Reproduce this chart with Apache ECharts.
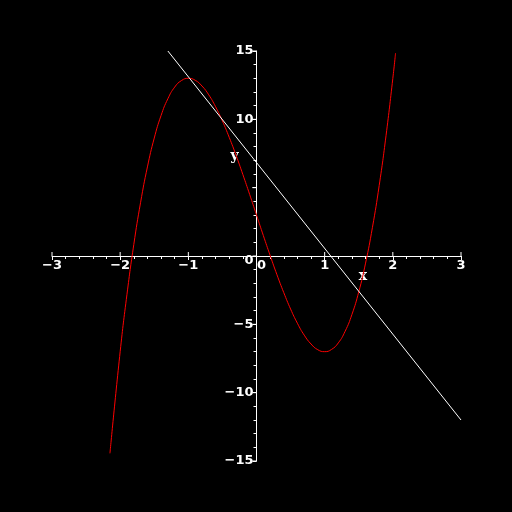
<!DOCTYPE html><html><head><meta charset="utf-8">
<script src="https://cdn.jsdelivr.net/npm/echarts@6/dist/echarts.min.js"></script>
<style>html,body{margin:0;background:#000}#c{width:512px;height:512px}</style></head><body><div id="c"></div>
<script>
const curveX=[-2.15,-2.0,-1.9,-1.8,-1.7,-1.6,-1.5,-1.4,-1.3,-1.2,-1.1,-1.0,-0.9,-0.8,-0.7,-0.6,-0.5,-0.4,-0.3,-0.2,-0.1,0,0.1,0.2,0.3,0.4,0.5,0.6,0.7,0.8,0.9,1.0,1.1,1.2,1.3,1.4,1.5,1.6,1.7,1.8,1.9,2.0,2.04];
const curveY=[-14.44,-7,-2.8,0.84,3.93,6.52,8.63,10.28,11.51,12.36,12.84,13,12.86,12.44,11.79,10.92,9.88,8.68,7.37,5.96,4.5,3,1.5,0.04,-1.37,-2.68,-3.88,-4.92,-5.79,-6.44,-6.86,-7,-6.84,-6.36,-5.51,-4.28,-2.63,-0.52,2.07,5.16,8.8,13,14.85];
const lineX=[-1.3,3];
const lineY=[15,-12];
const xTicks=[-3,-2,-1,0,1,2,3];
const yTicks=[-15,-10,-5,0,10,15];
const ch=echarts.init(document.getElementById('c'));
const ax=(mn,mx,iv)=>({type:'value',min:mn,max:mx,interval:iv,axisLine:{onZero:true,lineStyle:{color:'#fff'}},
 axisTick:{length:4,lineStyle:{color:'#fff'}},minorTick:{show:true,splitNumber:5,length:3,lineStyle:{color:'#fff'}},
 splitLine:{show:false},axisLabel:{show:false}});
const axIn=(mn,mx,iv)=>Object.assign(ax(mn,mx,iv),{axisTick:{inside:true,length:4,lineStyle:{color:'#fff'}},minorTick:{show:true,splitNumber:5,length:3,lineStyle:{color:'#fff'}}});
ch.setOption({backgroundColor:'#000',animation:false,
grid:{left:52,right:51,top:51,bottom:51},
xAxis:[ax(-3,3,1)],
yAxis:[ax(-15,15,5)],
series:[
 {type:'line',data:curveX.map((x,i)=>[x,curveY[i]]),smooth:true,showSymbol:false,lineStyle:{color:'#ff0000',width:1}},
 {type:'line',data:lineX.map((x,i)=>[x,lineY[i]]),showSymbol:false,lineStyle:{color:'#fff',width:1}}
]});
const P=(x,y)=>ch.convertToPixel({gridIndex:0},[x,y]);
const g=[];
const mk=(t)=>String(t).replace('-','\u2212');
xTicks.forEach(v=>{const p=P(v,0);g.push({type:'text',x:p[0]+(v===0?5:0),y:p[1]+3,style:{text:mk(v),fill:'#fff',font:'bold 13px DejaVu Sans',align:'center',verticalAlign:'top'}});
 g.push({type:'line',shape:{x1:p[0],y1:p[1]-4,x2:p[0],y2:p[1]},style:{stroke:'#fff'}});});
yTicks.forEach(v=>{const p=P(0,v);g.push({type:'text',x:p[0]-3,y:p[1]+(v===0?5:0),style:{text:mk(v),fill:'#fff',font:'bold 13px DejaVu Sans',align:'right',verticalAlign:'middle'}});});
[-15,-10,-5,0,5,10,15].forEach(v=>{const p=P(0,v);g.push({type:'line',shape:{x1:p[0]-4,y1:p[1],x2:p[0],y2:p[1]},style:{stroke:'#fff'}});});
const px=P(1.5,-1), py=P(-0.38,7.8);
g.push({type:'text',x:px[0],y:px[1],style:{text:'x',fill:'#fff',font:'bold 14px DejaVu Serif'}});
g.push({type:'text',x:py[0],y:py[1],style:{text:'y',fill:'#fff',font:'bold 14px DejaVu Serif'}});
ch.setOption({graphic:g});
</script></body></html>
